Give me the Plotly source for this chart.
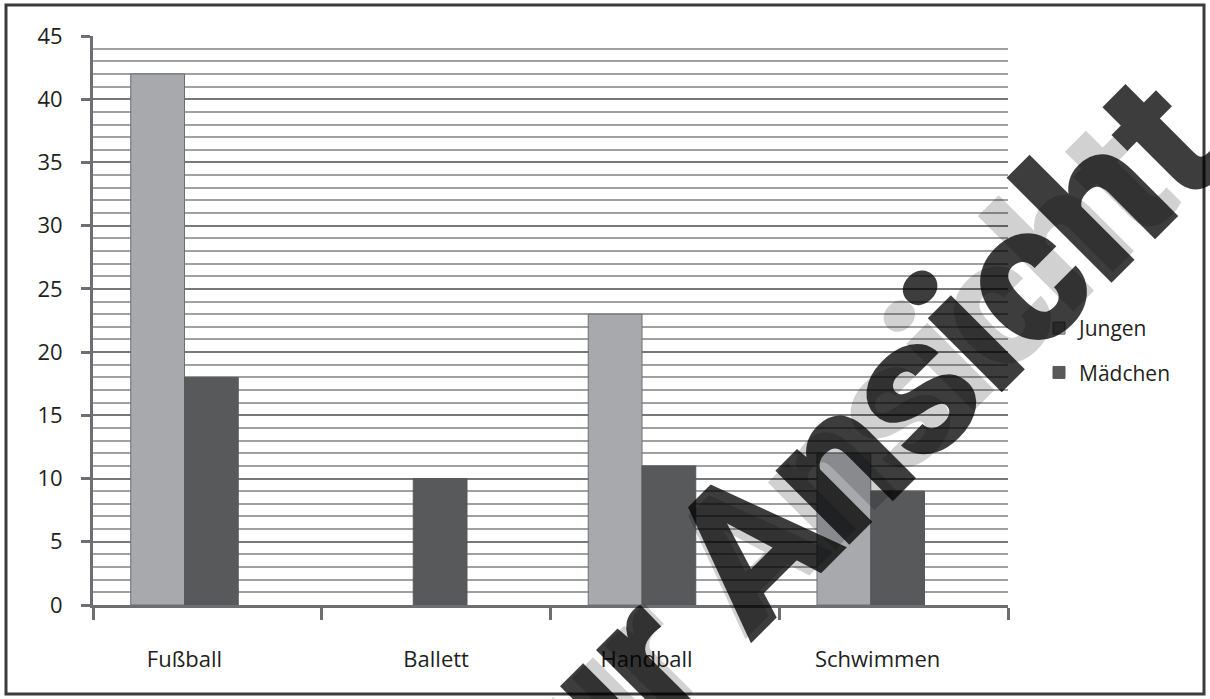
import plotly.graph_objects as go

# Sportarten und Anzahl der Kinder
sportarten = ["Fußball", "Ballett", "Handball", "Schwimmen"]
jungen = [42, 0, 23, 12]
maedchen = [18, 10, 11, 9]
y_ticks = [0, 5, 10, 15, 20, 25, 30, 35, 40, 45]

FONT = "Open Sans"
TEXT = "#231f20"
AXIS = "#6d6e71"

L, R, T, B = 93, 202, 36, 94
W, H = 1210, 699
PW, PH = W - L - R, H - T - B


def px(x):
    return (x - L) / PW


def py(y):
    return (H - B - y) / PH


pos = list(range(len(sportarten)))
label_shift = [0.0, 0.1, 0.02, 0.03]

fig = go.Figure()
fig.add_bar(
    x=pos, y=jungen, name="Jungen", legendgroup="j",
    marker=dict(color="#a7a9ac",
                line=dict(color=AXIS, width=[1 if v else 0 for v in jungen])),
)
fig.add_bar(
    x=pos, y=maedchen, name="Mädchen", legendgroup="m",
    marker=dict(color="#58595b", line=dict(color="#58595b", width=1)),
)

fig.update_layout(
    width=W, height=H,
    margin=dict(l=L, r=R, t=T, b=B, pad=0),
    paper_bgcolor="white", plot_bgcolor="white",
    barmode="group", bargap=0.53, bargroupgap=0,
    font=dict(family=FONT, size=22, color=TEXT),
    showlegend=True,
    legend=dict(
        x=px(1039), y=py(308), xanchor="left", yanchor="top",
        font=dict(size=21, color=TEXT), tracegroupgap=14,
        bgcolor="rgba(0,0,0,0)", itemwidth=30,
    ),
    xaxis=dict(
        range=[-0.4, len(sportarten) - 0.4],
        tickmode="array",
        tickvals=[p + s for p, s in zip(pos, label_shift)],
        ticktext=sportarten,
        ticks="", ticklabelstandoff=33,
        showgrid=False, zeroline=False,
        showline=True, linecolor=AXIS, linewidth=3,
        minor=dict(
            tickmode="array",
            tickvals=[p - 0.4 for p in pos] + [len(sportarten) - 0.4],
            ticks="outside", ticklen=12, tickwidth=3, tickcolor=AXIS,
            showgrid=False,
        ),
    ),
    yaxis=dict(
        range=[0, 45],
        tickmode="array", tickvals=y_ticks,
        ticks="outside", ticklen=9, tickwidth=3, tickcolor=AXIS,
        ticklabelstandoff=14,
        showline=True, linecolor=AXIS, linewidth=3,
        showgrid=True, gridcolor="#77787b", gridwidth=2,
        zeroline=False,
        minor=dict(dtick=1, showgrid=True, gridcolor="#a0a0a3", gridwidth=2, ticks=""),
    ),
)

# Rahmen um die gesamte Grafik
fig.add_shape(
    type="rect", xref="paper", yref="paper",
    x0=px(6), x1=px(1204), y0=py(694), y1=py(5),
    line=dict(color="#3c3c3c", width=3), fillcolor="rgba(0,0,0,0)",
    layer="above",
)

# Wasserzeichen
wm = "zur Ansicht"
WM_FONT = "Roboto"
fig.add_annotation(
    text=wm, xref="paper", yref="paper",
    x=px(812), y=py(485), xanchor="center", yanchor="middle",
    textangle=-45, showarrow=False,
    font=dict(family=WM_FONT, size=180, color="rgba(0,0,0,0.18)", weight=900),
)
fig.add_annotation(
    text=wm, xref="paper", yref="paper",
    x=px(824), y=py(474), xanchor="center", yanchor="middle",
    textangle=-45, showarrow=False,
    font=dict(family=WM_FONT, size=198, color="rgba(0,0,0,0.76)", weight=900),
)

fig.write_html("out.html")
